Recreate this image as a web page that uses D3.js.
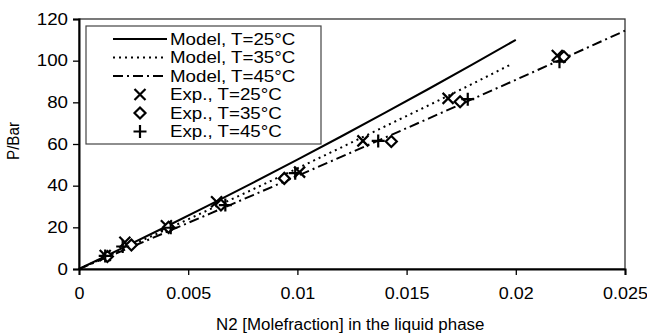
<!DOCTYPE html>
<html>
<head>
<meta charset="utf-8">
<script src="https://cdn.jsdelivr.net/npm/d3@7"></script>
<style>
  body { margin: 0; background: #fff; }
  svg text { font-family: "Liberation Sans", Arial, sans-serif; fill: #000; }
</style>
</head>
<body>
<div id="chart"></div>
<script>
// model curves [x, P]
const model25 = [[0, 0], [0.002, 10.1], [0.004, 20.4], [0.006, 30.9], [0.008, 41.6], [0.01, 52.5],
  [0.012, 63.6], [0.014, 74.9], [0.016, 86.4], [0.018, 98.1], [0.02, 110]];
const model35 = [[0, 0], [0.002, 9.5], [0.004, 19], [0.006, 28.7], [0.008, 38.4], [0.01, 48.3],
  [0.012, 58.3], [0.014, 68.4], [0.016, 78.5], [0.018, 88.8], [0.0197, 97.8]];
const model45 = [[0, 0], [0.002, 8.8], [0.004, 17.7], [0.006, 26.6], [0.008, 35.6], [0.01, 44.7],
  [0.012, 53.8], [0.014, 63], [0.016, 72.2], [0.018, 81.5], [0.02, 90.8], [0.022, 100.2], [0.025, 114.4]];

// experimental points
const exp25 = [[0.0012, 6.5], [0.0021, 12.8], [0.0040, 20.8], [0.0063, 32.3], [0.0101, 46.5],
  [0.0130, 61.5], [0.0169, 81.9], [0.0219, 102.5]];
const exp35 = [[0.0013, 6], [0.0024, 11.5], [0.0041, 20], [0.0065, 30.7], [0.0094, 43.5],
  [0.0143, 61.2], [0.01745, 80.3], [0.0222, 101.9]];
const exp45 = [[0.0012, 6.3], [0.0020, 10.8], [0.0042, 19.8], [0.0067, 30.7], [0.0099, 46],
  [0.0137, 61.5], [0.0178, 81.5], [0.0220, 99.5]];

const xTicks = [0, 0.005, 0.01, 0.015, 0.02, 0.025];
const yTicks = [0, 20, 40, 60, 80, 100, 120];

const legendItems = [
  {label: "Model, T=25°C", type: "line", dash: null},
  {label: "Model, T=35°C", type: "line", dash: "2,4"},
  {label: "Model, T=45°C", type: "line", dash: "10,4,2,4"},
  {label: "Exp., T=25°C", type: "x"},
  {label: "Exp., T=35°C", type: "diamond"},
  {label: "Exp., T=45°C", type: "plus"}
];

const width = 647, height = 333;
const margin = {left: 79, right: 22, top: 19, bottom: 64};

const svg = d3.select("#chart").append("svg")
  .attr("width", width)
  .attr("height", height);

const x = d3.scaleLinear().domain([0, 0.025]).range([margin.left, width - margin.right]);
const y = d3.scaleLinear().domain([0, 120]).range([height - margin.bottom, margin.top]);

// the source type is a bit wider than Liberation Sans
function widen(sel, k) {
  sel.each(function () {
    const len = this.getComputedTextLength();
    d3.select(this).attr("textLength", len * k).attr("lengthAdjust", "spacingAndGlyphs");
  });
}

// frame
svg.append("rect")
  .attr("x", x(0)).attr("y", y(120))
  .attr("width", x(0.025) - x(0)).attr("height", y(0) - y(120))
  .attr("fill", "none").attr("stroke", "#333").attr("stroke-width", 1.3);

svg.append("g")
  .attr("transform", `translate(0,${y(0)})`)
  .call(d3.axisBottom(x).tickValues(xTicks).tickFormat(d => d3.format("~g")(d)).tickSize(6).tickPadding(13))
  .call(g => g.select(".domain").attr("stroke-width", 2))
  .call(g => g.selectAll(".tick line").attr("stroke-width", 1.3))
  .call(g => g.selectAll(".tick text").style("font-size", "16px").style("font-family", "Liberation Sans, Arial, sans-serif"))
  .call(g => widen(g.selectAll(".tick text"), 1.12));

svg.append("g")
  .attr("transform", `translate(${x(0)},0)`)
  .call(d3.axisLeft(y).tickValues(yTicks).tickSize(6).tickPadding(5))
  .call(g => g.select(".domain").attr("stroke-width", 2))
  .call(g => g.selectAll(".tick line").attr("stroke-width", 1.3))
  .call(g => g.selectAll(".tick text").style("font-size", "16px").style("font-family", "Liberation Sans, Arial, sans-serif"))
  .call(g => widen(g.selectAll(".tick text"), 1.17));

svg.append("text")
  .attr("x", 216).attr("y", 330)
  .style("font-size", "16px")
  .text("N2 [Molefraction] in the liquid phase")
  .call(t => widen(t, 1.055));

svg.append("text")
  .attr("transform", `translate(19,141) rotate(-90)`)
  .attr("text-anchor", "middle")
  .style("font-size", "16px")
  .text("P/Bar")
  .call(t => widen(t, 0.95));

const line = d3.line().x(d => x(d[0])).y(d => y(d[1]));

const plot = svg.append("g");
plot.append("path").datum(model25).attr("d", line)
  .attr("fill", "none").attr("stroke", "#000").attr("stroke-width", 2);
plot.append("path").datum(model35).attr("d", line)
  .attr("fill", "none").attr("stroke", "#000").attr("stroke-width", 2).attr("stroke-dasharray", "2,4");
plot.append("path").datum(model45).attr("d", line)
  .attr("fill", "none").attr("stroke", "#000").attr("stroke-width", 2).attr("stroke-dasharray", "10,4,2,4");

const s = 5.5;
const markerPath = {
  x: `M${-s},${-s}L${s},${s}M${-s},${s}L${s},${-s}`,
  diamond: `M0,${-s}L${s},0L0,${s}L${-s},0Z`,
  plus: `M${-s - 1},0L${s + 1},0M0,${-s - 1}L0,${s + 1}`
};

function drawMarkers(data, type) {
  plot.append("g").selectAll("path")
    .data(data)
    .join("path")
    .attr("transform", d => `translate(${x(d[0])},${y(d[1])})`)
    .attr("d", markerPath[type])
    .attr("fill", type === "diamond" ? "#fff" : "none")
    .attr("stroke", "#000").attr("stroke-width", 2.2);
}
drawMarkers(exp25, "x");
drawMarkers(exp35, "diamond");
drawMarkers(exp45, "plus");

// legend
const legend = svg.append("g");
legend.append("rect")
  .attr("x", 86).attr("y", 26).attr("width", 235).attr("height", 118)
  .attr("fill", "#fff").attr("stroke", "#444").attr("stroke-width", 1.2);

const row = legend.selectAll("g.row")
  .data(legendItems)
  .join("g")
  .attr("class", "row")
  .attr("transform", (d, i) => `translate(0,${39 + i * 18.5})`);

row.filter(d => d.type === "line").append("line")
  .attr("x1", 113).attr("x2", 167)
  .attr("stroke", "#000").attr("stroke-width", 2)
  .attr("stroke-dasharray", d => d.dash);

row.filter(d => d.type !== "line").append("path")
  .attr("transform", "translate(140,0)")
  .attr("d", d => markerPath[d.type])
  .attr("fill", "none").attr("stroke", "#000").attr("stroke-width", 2.2);

row.append("text")
  .attr("x", 170).attr("dy", "0.35em")
  .style("font-size", "16px")
  .text(d => d.label)
  .call(t => widen(t, 1.17));
</script>
</body>
</html>
